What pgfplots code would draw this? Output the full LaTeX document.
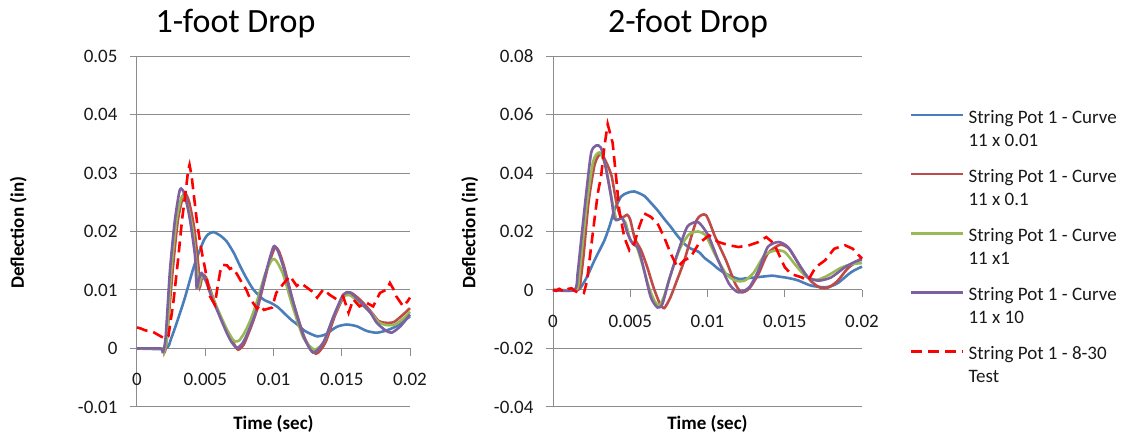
\documentclass[border=0pt]{standalone}
\usepackage{pgfplots}
\pgfplotsset{compat=1.18}
\usepackage{fontspec}
\setmainfont{Carlito}

\definecolor{sblue}{HTML}{4A7EBB}
\definecolor{sred}{HTML}{BE4B48}
\definecolor{sgreen}{HTML}{98B954}
\definecolor{spurple}{HTML}{7D60A0}
\definecolor{stest}{HTML}{FF0000}
\definecolor{gridgray}{HTML}{8C8C8C}

\newcommand{\smallfont}{\fontsize{19}{23.5}\selectfont}

\pgfplotsset{
  drop/.style={
    scale only axis,
    height=351pt,
    xmin=0, xmax=0.02,
    scaled ticks=false,
    axis x line=middle, axis y line=left,
    axis line style={gridgray, line width=1pt, -},
    ymajorgrids, grid style={gridgray, line width=1pt},
    tick align=outside, major tick length=7pt,
    tick style={gridgray, line width=1pt},
    hide obscured x ticks=false, hide obscured y ticks=false,
    xtick={0,0.005,0.01,0.015,0.02},
    xticklabels={0,0.005,0.01,0.015,0.02},
    ticklabel style={font=\smallfont, text=black!90},
    xticklabel style={anchor=base, yshift=-30pt},
    yticklabel style={xshift=-9pt},
    xlabel={Time (sec)},
    ylabel={Deflection (in)},
    every axis x label/.style={at={(axis description cs:0.5,-0.0627)}, anchor=base,
      font=\smallfont\bfseries, text=black},
    title style={font=\fontsize{34}{38}\selectfont, anchor=base, yshift=0pt},
    clip=false,
  },
  model/.style={line width=2.6pt, smooth, tension=0.4},
  test/.style={line width=2.6pt, stest, dash pattern=on 11pt off 6pt},
}

\begin{document}
\begin{tikzpicture}
\useasboundingbox (0,0) rectangle (1125pt,434pt);

% 1-foot drop
\begin{axis}[drop,
  at={(137pt,27pt)}, anchor=south west, width=273pt,
  ymin=-0.01, ymax=0.05,
  ytick={-0.01,0,0.01,0.02,0.03,0.04,0.05},
  yticklabels={-0.01,0,0.01,0.02,0.03,0.04,0.05},
  every axis y label/.style={at={(axis description cs:-0.414,0.497)}, rotate=90, anchor=base,
    font=\smallfont\bfseries, text=black},
  title={1-foot Drop}, title style={at={(axis description cs:0.361,1.051)}},
]
\addplot[model, sblue] coordinates {
(0,0) (0.0021,0) (0.0025,0.0017) (0.0030,0.0050) (0.0035,0.0086) (0.0041,0.0135) (0.0045,0.0162)
(0.0049,0.0185) (0.0052,0.0195) (0.0056,0.0199) (0.0061,0.0193) (0.00657,0.0183) (0.0071,0.0163)
(0.00755,0.0141) (0.008,0.0121) (0.00852,0.0101) (0.00925,0.0084) (0.0098,0.0078) (0.0103,0.0071)
(0.0108,0.0060) (0.0113,0.0049) (0.0118,0.0040) (0.0123,0.0030) (0.01316,0.0021) (0.0138,0.0024)
(0.01463,0.0037) (0.01536,0.0041) (0.0161,0.0038) (0.01683,0.0030) (0.01756,0.0027) (0.0183,0.0031)
(0.019,0.0038) (0.0195,0.0046) (0.02,0.0055)
};
\addplot[model, sred] coordinates {
(0,0) (0.0019,0) (0.00205,-0.0005) (0.0022,0.002) (0.0026,0.013) (0.003,0.022) (0.00345,0.0265)
(0.0038,0.0252) (0.0042,0.0205) (0.0045,0.014) (0.0046,0.0105) (0.0048,0.0125) (0.00505,0.0122)
(0.0054,0.0098) (0.0058,0.0072) (0.0062,0.0049) (0.0066,0.0029) (0.007,0.0012) (0.0074,-0.0002)
(0.0078,0.0006) (0.0081,0.0022) (0.0085,0.0046) (0.0089,0.0075) (0.0096,0.0140) (0.0101,0.0172)
(0.0104,0.0166) (0.0108,0.0138) (0.0115,0.0075) (0.0123,0.0017) (0.0131,-0.0009) (0.0138,0.001)
(0.0145,0.0056) (0.0152,0.0091) (0.0157,0.0095) (0.0164,0.0082) (0.0171,0.0064) (0.0177,0.0047)
(0.0182,0.0044) (0.0188,0.0045) (0.0194,0.0056) (0.02,0.0069)
};
\addplot[model, sgreen] coordinates {
(0,0) (0.0019,0) (0.002,-0.0004) (0.0022,0.002) (0.0025,0.013) (0.0029,0.022) (0.0033,0.026)
(0.0037,0.0245) (0.0041,0.020) (0.0044,0.0135) (0.00455,0.0108) (0.0047,0.0122) (0.005,0.0118)
(0.0054,0.0095) (0.0058,0.0073) (0.0062,0.0052) (0.0066,0.0032) (0.007,0.0016) (0.0072,0.0012)
(0.0075,0.0014) (0.0079,0.0028) (0.0083,0.0048) (0.0087,0.0074) (0.0094,0.0128) (0.0099,0.0152)
(0.0102,0.015) (0.0107,0.0127) (0.0114,0.0072) (0.0122,0.0018) (0.013,-0.0002) (0.0137,0.0012)
(0.0144,0.0055) (0.0151,0.0088) (0.0156,0.0091) (0.0163,0.0078) (0.0171,0.0062) (0.0177,0.0045)
(0.0183,0.004) (0.0189,0.0041) (0.0195,0.0051) (0.02,0.0063)
};
\addplot[model, spurple] coordinates {
(0,0) (0.0017,0) (0.0019,-0.0006) (0.0021,0.002) (0.00242,0.0135) (0.00278,0.022) (0.00315,0.0272)
(0.0035,0.0263) (0.00388,0.022) (0.00425,0.0158) (0.00437,0.0104) (0.00455,0.012) (0.00474,0.0129)
(0.0051,0.0112) (0.0055,0.0085) (0.00584,0.0067) (0.0062,0.0047) (0.00657,0.0027) (0.0069,0.0012)
(0.0073,0.0001) (0.0077,0.0008) (0.008,0.0021) (0.0084,0.0043) (0.00877,0.0067) (0.0095,0.0135)
(0.0100,0.0174) (0.0103,0.0168) (0.0107,0.0141) (0.01145,0.0078) (0.0122,0.0021) (0.0129,-0.0007)
(0.01365,0.001) (0.0144,0.0055) (0.0151,0.0092) (0.0156,0.0096) (0.0163,0.0081) (0.0171,0.0061)
(0.01756,0.0044) (0.0182,0.0031) (0.01866,0.0027) (0.0193,0.0038) (0.02,0.0058)
};
\addplot[test] coordinates {
(0,0.0036) (0.0003,0.0034) (0.0006,0.0031) (0.0009,0.0030) (0.0012,0.0028) (0.0015,0.0024)
(0.0018,0.0020) (0.00205,0.0017) (0.0023,0.0021) (0.00266,0.0078) (0.003,0.0150) (0.0033,0.0220)
(0.0036,0.0275) (0.00375,0.0305) (0.00385,0.0314) (0.0040,0.0295) (0.0042,0.0255) (0.0044,0.0215)
(0.0046,0.0185) (0.0048,0.0158) (0.005,0.0135) (0.0052,0.0108) (0.00535,0.0089) (0.0057,0.0075)
(0.0059,0.0105) (0.0061,0.0132) (0.0063,0.0143) (0.0066,0.0142) (0.0068,0.0136) (0.007,0.0138)
(0.0073,0.0128) (0.00755,0.0118) (0.0078,0.0108) (0.008,0.0101) (0.0083,0.0084) (0.0085,0.0078)
(0.0088,0.0068) (0.009,0.0074) (0.0093,0.0066) (0.0096,0.0068) (0.0099,0.0070) (0.0102,0.0095)
(0.0107,0.011) (0.0112,0.0124) (0.0117,0.0107) (0.012,0.0112) (0.0124,0.0105) (0.0128,0.0098)
(0.0132,0.0087) (0.01365,0.0101) (0.0141,0.0092) (0.01463,0.0084) (0.0151,0.0089) (0.0155,0.0061)
(0.01585,0.0084) (0.0163,0.0072) (0.01683,0.0078) (0.0173,0.0072) (0.0178,0.0095) (0.0183,0.0101)
(0.01853,0.0112) (0.0188,0.0101) (0.019,0.0089) (0.0195,0.0072) (0.0198,0.0080) (0.02,0.0087)
};
\end{axis}

% 2-foot drop
\begin{axis}[drop,
  at={(553pt,27pt)}, anchor=south west, width=309pt,
  ymin=-0.04, ymax=0.08,
  ytick={-0.04,-0.02,0,0.02,0.04,0.06,0.08},
  yticklabels={-0.04,-0.02,0,0.02,0.04,0.06,0.08},
  every axis y label/.style={at={(axis description cs:-0.251,0.497)}, rotate=90, anchor=base,
    font=\smallfont\bfseries, text=black},
  title={2-foot Drop}, title style={at={(axis description cs:0.437,1.051)}},
  legend style={at={(axis description cs:1.1553,0.846)}, anchor=north west,
    draw=none, fill=none, inner sep=0pt, outer sep=0pt,
    row sep=21pt, column sep=4pt,
    font=\smallfont, text=black!90,
    nodes={align=left, inner sep=0pt}},
  legend cell align=left,
  legend image code/.code={\draw[#1, sharp plot] (0pt,14pt) -- (52pt,14pt);},
]
\addplot[model, sblue] coordinates {
(0,0) (0.0015,0) (0.0018,0.0009) (0.0022,0.0045) (0.00268,0.0101) (0.00333,0.017) (0.0037,0.0225)
(0.00397,0.0273) (0.0044,0.0319) (0.0048,0.0332) (0.00526,0.0337) (0.0059,0.0322) (0.0063,0.0300)
(0.00676,0.0273) (0.0072,0.0243) (0.00762,0.0216) (0.008,0.0189) (0.00848,0.0159) (0.0089,0.0142)
(0.00944,0.0130) (0.0098,0.0110) (0.0103,0.009) (0.0107,0.0072) (0.0112,0.0055) (0.012,0.0038)
(0.0125,0.0040) (0.0131,0.0043) (0.0136,0.0046) (0.0142,0.0049) (0.0146,0.0046) (0.015,0.0043)
(0.0155,0.0038) (0.0159,0.0032) (0.0167,0.0015) (0.0176,0.0009) (0.0181,0.0015) (0.0185,0.0026)
(0.0193,0.0061) (0.02,0.0080)
};
\addlegendentry{String Pot 1 - Curve\\11 x 0.01}
\addplot[model, sred] coordinates {
(0,0) (0.0016,0) (0.0018,0.004) (0.002,0.0130) (0.0023,0.030) (0.0027,0.0430) (0.0031,0.0467)
(0.0035,0.0430) (0.0038,0.0388) (0.0041,0.0300) (0.0044,0.0248) (0.0048,0.0257) (0.005,0.0240)
(0.0053,0.0175) (0.0057,0.0136) (0.0061,0.0078) (0.0065,0.0010) (0.0069,-0.0045) (0.0072,-0.0062)
(0.0076,-0.0025) (0.0080,0.0030) (0.0085,0.0101) (0.0093,0.0239) (0.0099,0.0256) (0.0105,0.0181)
(0.0112,0.0101) (0.0118,0.0021) (0.0122,-0.0008) (0.0127,0.0005) (0.0133,0.0055) (0.0139,0.0125)
(0.0147,0.0155) (0.0153,0.0140) (0.016,0.0080) (0.0167,0.0030) (0.0173,0.0008) (0.0178,0.0008)
(0.0184,0.0030) (0.0191,0.0075) (0.02,0.0110)
};
\addlegendentry{String Pot 1 - Curve\\11 x 0.1}
\addplot[model, sgreen] coordinates {
(0,0) (0.0015,0) (0.0017,0.005) (0.0019,0.0150) (0.0022,0.030) (0.0026,0.0440) (0.003,0.047)
(0.0034,0.0425) (0.0038,0.0310) (0.0041,0.0242) (0.0044,0.0245) (0.0047,0.0230) (0.005,0.0170)
(0.0054,0.0150) (0.0058,0.0085) (0.0062,0.0010) (0.0066,-0.0040) (0.0069,-0.0052) (0.0072,-0.0020)
(0.0076,0.0050) (0.0082,0.0140) (0.0088,0.0190) (0.0094,0.0200) (0.0099,0.0185) (0.0105,0.0120)
(0.0112,0.0055) (0.0118,0.0032) (0.0124,0.0032) (0.013,0.0060) (0.0137,0.0120) (0.0144,0.0135)
(0.015,0.0130) (0.0157,0.0085) (0.0164,0.0045) (0.0171,0.0035) (0.0178,0.0050) (0.0186,0.0075)
(0.0193,0.0088) (0.02,0.0092)
};
\addlegendentry{String Pot 1 - Curve\\11 x1}
\addplot[model, spurple] coordinates {
(0,0) (0.0014,0) (0.0016,0.0060) (0.0018,0.0159) (0.00215,0.0331) (0.00247,0.0469) (0.00279,0.0494)
(0.00311,0.0486) (0.00344,0.0411) (0.00376,0.0319) (0.00397,0.0245) (0.0042,0.0240) (0.0045,0.0245)
(0.00483,0.0193) (0.00515,0.0159) (0.00547,0.0147) (0.0057,0.0110) (0.0059,0.0067) (0.00633,-0.0025)
(0.00676,-0.006) (0.00708,-0.0048) (0.0075,0.0032) (0.00805,0.0124) (0.00869,0.0216) (0.00933,0.0233)
(0.0097,0.0215) (0.0101,0.0181) (0.0107,0.0101) (0.0114,0.0021) (0.012,-0.0008) (0.0127,0.0009)
(0.0133,0.0067) (0.0139,0.0147) (0.0146,0.0164) (0.0152,0.0147) (0.0159,0.009) (0.0165,0.0043)
(0.0172,0.0032) (0.018,0.0043) (0.0189,0.0078) (0.0196,0.0098) (0.02,0.0103)
};
\addlegendentry{String Pot 1 - Curve\\11 x 10}
\addplot[test] coordinates {
(0,0) (0.0002,-0.0003) (0.0004,0.0004) (0.0006,-0.0002) (0.0008,-0.0005) (0.001,0.0004)
(0.0012,0.0006) (0.0014,-0.0003) (0.0016,-0.0008) (0.0018,-0.0006) (0.002,-0.0010) (0.0022,0.0030)
(0.00236,0.0101) (0.00268,0.0239) (0.0029,0.0331) (0.00311,0.0388) (0.00333,0.0492) (0.00354,0.0567)
(0.00386,0.0503) (0.00408,0.0388) (0.00429,0.0273) (0.00461,0.0181) (0.00494,0.0136) (0.00526,0.0159)
(0.00558,0.0216) (0.0059,0.0262) (0.00633,0.025) (0.00676,0.0228) (0.00719,0.0181) (0.00762,0.0124)
(0.00805,0.0078) (0.00848,0.0101) (0.0089,0.0112) (0.00944,0.0159) (0.0101,0.0187) (0.0107,0.0164)
(0.0114,0.0153) (0.012,0.0147) (0.0127,0.0153) (0.0133,0.0164) (0.0138,0.0181) (0.0143,0.0159)
(0.0146,0.0124) (0.015,0.0078) (0.0154,0.0055) (0.0161,0.0043) (0.0165,0.0032) (0.017,0.0078)
(0.0176,0.0101) (0.0182,0.0141) (0.0189,0.0153) (0.0194,0.0141) (0.0198,0.0118) (0.02,0.0108)
};
\addlegendentry{String Pot 1 - 8-30\\Test}
\end{axis}
\end{tikzpicture}
\end{document}
